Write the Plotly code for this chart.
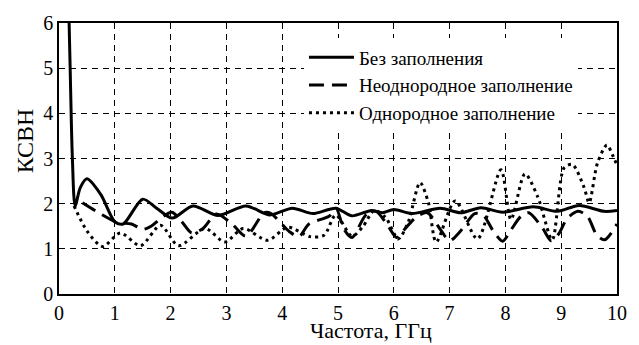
import plotly.graph_objects as go

# Без заполнения (solid)
x_none = [0.17, 0.2, 0.24, 0.29, 0.38, 0.5, 0.75, 1.0, 1.15, 1.5, 1.75, 2.03, 2.4, 2.85, 3.35,
          3.78, 4.18, 4.55, 4.96, 5.25, 5.6, 5.8, 6.0, 6.33, 6.83, 7.2, 7.56, 7.95, 8.5, 8.93,
          9.32, 9.77, 10.0]
y_none = [6.6, 5.0, 3.0, 1.95, 2.35, 2.55, 2.2, 1.6, 1.55, 2.1, 1.9, 1.68, 1.95, 1.74, 1.95,
          1.75, 1.9, 1.78, 1.9, 1.73, 1.85, 1.8, 1.87, 1.78, 1.9, 1.8, 1.91, 1.81, 1.93, 1.83,
          1.96, 1.83, 1.85]

# Неоднородное заполнение (dashed)
x_inh = [0.42, 0.75, 1.05, 1.3, 1.5, 1.65, 1.8, 2.02, 2.2, 2.38, 2.58, 2.82, 3.1, 3.35, 3.68,
         3.8, 4.13, 4.3, 4.48, 4.84, 4.97, 5.1, 5.25, 5.5, 5.68, 5.9, 6.05, 6.17, 6.4, 6.6,
         6.85, 7.0, 7.2, 7.45, 7.6, 7.78, 7.95, 8.1, 8.28, 8.42, 8.67, 8.82, 8.96, 9.1, 9.3,
         9.47, 9.64, 9.78, 10.0]
y_inh = [2.02, 1.77, 1.58, 1.55, 1.43, 1.5, 1.65, 1.81, 1.6, 1.35, 1.45, 1.77, 1.55, 1.28, 1.8,
         1.78, 1.38, 1.27, 1.55, 1.72, 1.88, 1.45, 1.25, 1.75, 1.83, 1.5, 1.25, 1.4, 1.7, 1.8,
         1.4, 1.18, 1.4, 1.78, 1.75, 1.4, 1.17, 1.42, 1.72, 1.8, 1.45, 1.18, 1.34, 1.66, 1.83,
         1.72, 1.3, 1.2, 1.55]

# Однородное заполнение (dotted)
x_hom = [0.27, 0.5, 0.78, 1.1, 1.46, 1.82, 2.14, 2.62, 2.97, 3.3, 3.74, 4.1, 4.5, 4.75, 4.96,
         5.25, 5.45, 5.65, 5.85, 6.08, 6.26, 6.47, 6.62, 6.76, 7.1, 7.5, 7.92, 8.1, 8.35, 8.58,
         8.84, 9.05, 9.2, 9.41, 9.5, 9.65, 9.82, 9.93, 10.0]
y_hom = [1.95, 1.4, 1.05, 1.35, 1.07, 1.52, 1.07, 1.45, 1.15, 1.45, 1.19, 1.48, 1.27, 1.3, 1.75,
         1.28, 1.5, 1.85, 1.7, 1.22, 1.6, 2.47, 2.02, 1.15, 2.06, 1.22, 2.75, 1.65, 2.66, 2.15,
         1.2, 2.79, 2.87, 2.36, 2.02, 2.9, 3.3, 3.05, 2.85]

x_ticks = [0, 1, 2, 3, 4, 5, 6, 7, 8, 9, 10]
y_ticks = [0, 1, 2, 3, 4, 5, 6]

FONT = "serif"

fig = go.Figure()
fig.add_trace(go.Scatter(x=x_none, y=y_none, mode="lines", name="Без заполнения",
                         line=dict(color="black", width=3, shape="spline", smoothing=0.8)))
fig.add_trace(go.Scatter(x=x_inh, y=y_inh, mode="lines", name="Неоднородное заполнение",
                         line=dict(color="black", width=3, dash="15px,8px", shape="spline", smoothing=0.8)))
fig.add_trace(go.Scatter(x=x_hom, y=y_hom, mode="lines", name="Однородное заполнение",
                         line=dict(color="black", width=3, dash="3px,4px", shape="spline", smoothing=0.8)))

axis_common = dict(showline=True, linecolor="black", linewidth=1.5, mirror=True,
                   showgrid=True, gridcolor="black", gridwidth=1, griddash="6px,5px",
                   zeroline=False, ticks="", tickfont=dict(family=FONT, size=20, color="black"))

fig.update_layout(
    width=639, height=345,
    margin=dict(l=59, r=22, t=16, b=51),
    paper_bgcolor="white", plot_bgcolor="white",
    font=dict(family=FONT, color="black"),
    showlegend=True,
    legend=dict(x=0.439, y=0.943, xanchor="left", yanchor="top",
                bgcolor="white", borderwidth=0,
                font=dict(family=FONT, size=19, color="black"),
                tracegroupgap=0, itemwidth=45),
    xaxis=dict(range=[0, 10], tickvals=x_ticks, ticktext=[str(v) for v in x_ticks],
               **axis_common),
    yaxis=dict(range=[0, 6], tickvals=y_ticks, ticktext=[str(v) for v in y_ticks],
               **axis_common),
    annotations=[
        dict(text="Частота, ГГц", xref="paper", yref="paper", x=0.56, y=-0.185,
             xanchor="center", yanchor="bottom", showarrow=False, borderpad=0,
             font=dict(family=FONT, size=22, color="black")),
        dict(text="КСВН", xref="paper", yref="paper", x=-0.061, y=0.567, textangle=-90,
             xanchor="center", yanchor="middle", showarrow=False,
             font=dict(family=FONT, size=24, color="black")),
    ],
)

# remove the default page margin so the figure sits at the window origin
fig.write_html("out.html", config={"displayModeBar": False},
               post_script="document.body.style.margin='0';")
